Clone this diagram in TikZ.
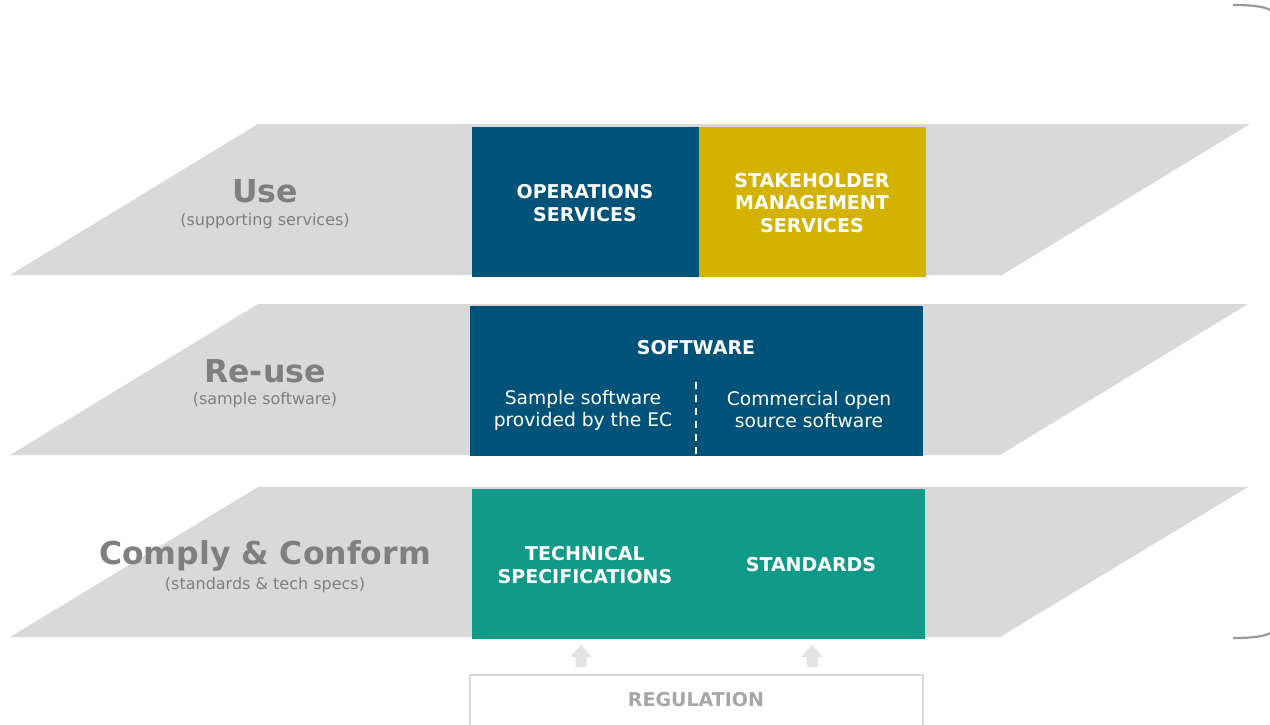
\documentclass[tikz,border=0pt]{standalone}
\usepackage{fontspec}
\setmainfont{DejaVu Sans}
\definecolor{bandgray}{HTML}{D9D9D9}
\definecolor{labelgray}{HTML}{7F7F7F}
\definecolor{ecblue}{HTML}{005378}
\definecolor{ecgold}{HTML}{D4B200}
\definecolor{ecteal}{HTML}{119A87}
\definecolor{arrowgray}{HTML}{E3E3E3}
\definecolor{reggray}{HTML}{A6A6A6}
\begin{document}
\begin{tikzpicture}[x=1pt,y=-1pt,
  band/.style={fill=bandgray,draw=none},
  bigtitle/.style={text=labelgray,font=\fontsize{31.5}{36}\selectfont\bfseries,inner sep=0pt},
  subtitle/.style={text=labelgray,font=\fontsize{16}{19}\selectfont,inner sep=0pt},
  boxtext/.style={text=white,font=\fontsize{19}{22.5}\selectfont\bfseries,align=center,inner sep=0pt},
  bodytext/.style={text=white,font=\fontsize{18.7}{22}\selectfont,align=center,inner sep=0pt},
  uparrow/.style={fill=arrowgray,draw=none},
  bracket/.style={draw=gray!80,line width=2.2pt}]
\useasboundingbox (0,0) rectangle (1270,724);
% bands
\fill[band] (258,124) -- (1250,124) -- (1002,275) -- (10,275) -- cycle;
\fill[band] (258,304) -- (1248,304) -- (1000,455) -- (10,455) -- cycle;
\fill[band] (258,487) -- (1248,487) -- (1000,637) -- (10,637) -- cycle;
% boxes
\fill[ecblue] (472,127) rectangle (699,277);
\fill[ecgold] (699,127) rectangle (926,277);
\fill[ecblue] (470,306) rectangle (923,456);
\fill[ecteal] (472,489) rectangle (925,639);
\draw[white,line width=1.3pt,dash pattern=on 7pt off 6pt] (696,382) -- (696,456);
% labels left
\node[bigtitle] (use) at (265,191) {Use};
\node[subtitle] (usesub) at (265,221) {(supporting services)};
\node[bigtitle] (reuse) at (265,371) {Re-use};
\node[subtitle] (reusesub) at (265,400) {(sample software)};
\node[bigtitle] (comply) at (265,556) {Comply \& Conform};
\node[subtitle] (complysub) at (265,585) {(standards \& tech specs)};
% box texts
\node[boxtext] (ops) at (585,203) {OPERATIONS\\SERVICES};
\node[boxtext] (stake) at (812,203) {STAKEHOLDER\\MANAGEMENT\\SERVICES};
\node[boxtext] (soft) at (696,348) {SOFTWARE};
\node[bodytext] (sample) at (583,410) {Sample software\\provided by the EC};
\node[bodytext] (comm) at (809,410) {Commercial open\\source software};
\node[boxtext] (tech) at (585,565) {TECHNICAL\\SPECIFICATIONS};
\node[boxtext] (std) at (811,565) {STANDARDS};
% arrows
\foreach \ax in {581,812}{
  \fill[uparrow] (\ax-5.5,667) -- (\ax-5.5,657) -- (\ax-11,657) -- (\ax,645) -- (\ax+11,657) -- (\ax+5.5,657) -- (\ax+5.5,667) -- cycle;
}
% regulation
\draw[draw=bandgray,line width=2pt] (470,726) -- (470,675) -- (923,675) -- (923,726);
\node[text=reggray,font=\fontsize{19}{22}\selectfont\bfseries,inner sep=0pt] (reg) at (696,700) {REGULATION};
% bracket pieces
\draw[bracket] (1233,5) .. controls (1255,5) and (1266,7) .. (1272,11);
\draw[bracket] (1233,638) .. controls (1255,638) and (1266,636) .. (1272,632);
\end{tikzpicture}
\end{document}
